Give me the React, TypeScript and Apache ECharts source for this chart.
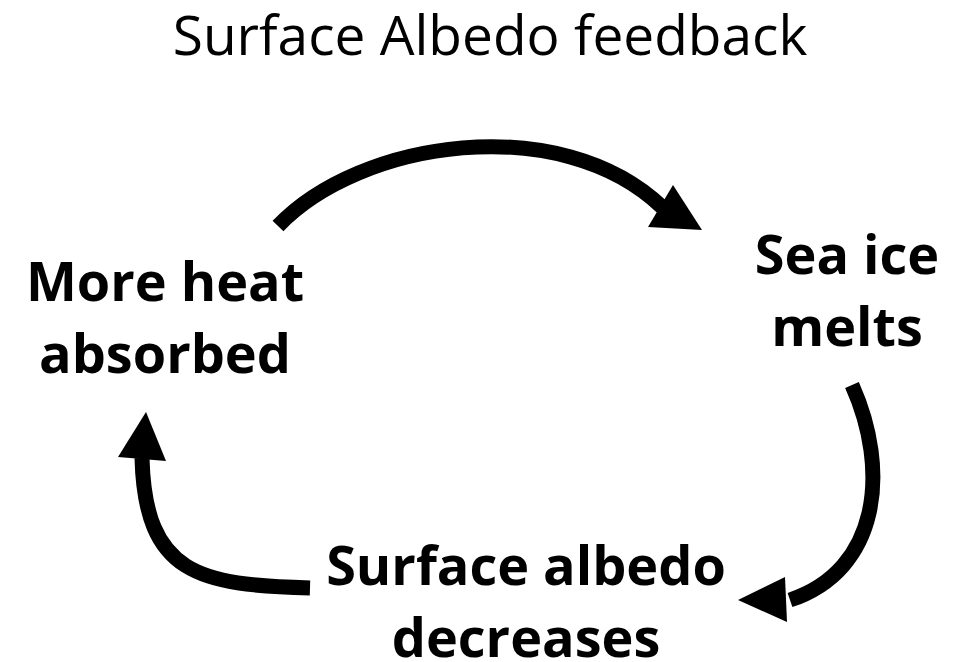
import React, { useEffect, useRef } from "react";
import * as echarts from "echarts";

const titleText = "Surface Albedo feedback";

// node labels: lines of text
const nodeLines: string[][] = [
  ["More heat", "absorbed"],
  ["Sea ice", "melts"],
  ["Surface albedo", "decreases"],
];
const nodeCenters: [number, number][] = [
  [165, 316],
  [847, 289],
  [526, 600],
];

// arrows: bezier [x1,y1,cp1x,cp1y,cp2x,cp2y,x2,y2] and head triangle
const arrowCurves: number[][] = [
  [278, 226, 360, 140, 560, 110, 662, 207],
  [852, 385, 890, 470, 880, 570, 790, 600],
  [310, 588, 200, 585, 145, 575, 142, 458],
];
const arrowHeads: number[][][] = [
  [[673, 185], [702, 230], [648, 227]],
  [[785, 577], [738, 600], [787, 622]],
  [[118, 457], [146, 412], [166, 461]],
];

export default function App() {
  const ref = useRef<HTMLDivElement>(null);
  useEffect(() => {
    document.body.style.margin = "0";
    const chart = echarts.init(ref.current!, null, { renderer: "svg" });
    const lineH = 72;
    const graphics: any[] = [];
    graphics.push({
      type: "text",
      x: 490,
      y: 33,
      style: {
        text: titleText,
        font: "55px 'Open Sans'",
        lineHeight: 55,
        fill: "#000",
        textAlign: "center",
        textVerticalAlign: "middle",
      },
    });
    nodeLines.forEach((lines, i) => {
      const [cx, cy] = nodeCenters[i];
      lines.forEach((t, j) => {
        graphics.push({
          type: "text",
          x: cx,
          y: cy + (j - (lines.length - 1) / 2) * lineH,
          style: {
            text: t,
            font: "bold 54px 'Open Sans'",
            lineHeight: 54,
            fill: "#000",
            textAlign: "center",
            textVerticalAlign: "middle",
          },
        });
      });
    });
    arrowCurves.forEach((c) => {
      graphics.push({
        type: "bezierCurve",
        shape: { x1: c[0], y1: c[1], cpx1: c[2], cpy1: c[3], cpx2: c[4], cpy2: c[5], x2: c[6], y2: c[7] },
        style: { stroke: "#000", lineWidth: 15, fill: null, lineCap: "butt" },
      });
    });
    arrowHeads.forEach((p) => {
      graphics.push({
        type: "polygon",
        shape: { points: p },
        style: { fill: "#000" },
      });
    });
    chart.setOption({
      animation: false,
      backgroundColor: "#fff",
      graphic: graphics,
    });
    return () => chart.dispose();
  }, []);
  return <div ref={ref} style={{ width: 955, height: 662 }} />;
}
